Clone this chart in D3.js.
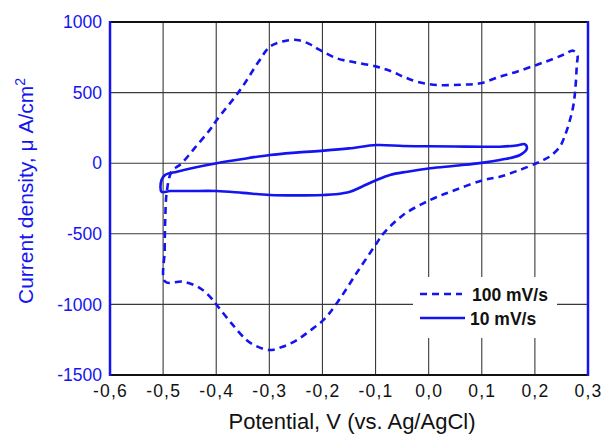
<!DOCTYPE html>
<html>
<head>
<meta charset="utf-8">
<script src="https://cdn.jsdelivr.net/npm/d3@7"></script>
<style>
  body { margin: 0; background: #fff; }
  text { font-family: "Liberation Sans", Arial, sans-serif; }
</style>
</head>
<body>
<svg id="chart" width="603" height="435"></svg>
<script>
// potential (V) / current density (uA/cm2)
const fastScan = [
  [-0.496, -839], [-0.497, -615], [-0.496, -400], [-0.493, -200], [-0.484, -60],
  [-0.465, 0], [-0.44, 110], [-0.412, 236], [-0.399, 306], [-0.355, 518],
  [-0.32, 720], [-0.299, 825], [-0.275, 862], [-0.248, 873], [-0.225, 845],
  [-0.205, 802], [-0.173, 743], [-0.14, 715], [-0.098, 684], [-0.07, 650],
  [-0.048, 613], [-0.02, 575], [0.015, 554], [0.06, 556], [0.097, 566],
  [0.134, 613], [0.166, 648], [0.203, 696], [0.229, 731], [0.255, 770],
  [0.272, 797], [0.280, 766], [0.279, 700], [0.276, 518], [0.272, 400],
  [0.266, 306], [0.257, 200], [0.247, 117], [0.229, 50], [0.216, 23],
  [0.203, 0], [0.17, -50], [0.134, -96], [0.103, -119], [0.05, -190],
  [0.003, -260], [-0.048, -367], [-0.085, -497], [-0.098, -567], [-0.136, -780],
  [-0.173, -992], [-0.198, -1110], [-0.225, -1190], [-0.248, -1252], [-0.275, -1300],
  [-0.299, -1323], [-0.325, -1295], [-0.343, -1252], [-0.37, -1140], [-0.399, -1004],
  [-0.409, -957], [-0.43, -886], [-0.462, -839]
];
const slowScan = [
  [-0.503, -119], [-0.496, -83], [-0.474, -60], [-0.44, -30], [-0.399, 0],
  [-0.35, 30], [-0.299, 58], [-0.25, 75], [-0.198, 89], [-0.15, 105],
  [-0.098, 129], [-0.048, 122], [0.0, 120], [0.05, 118], [0.103, 117],
  [0.134, 117], [0.165, 125], [0.181, 134], [0.185, 106], [0.172, 58],
  [0.134, 23], [0.103, 4], [0.05, -18], [0.003, -36], [-0.04, -60],
  [-0.073, -83], [-0.098, -119], [-0.125, -165], [-0.148, -202], [-0.175, -220],
  [-0.198, -225], [-0.25, -228], [-0.299, -225], [-0.35, -210], [-0.399, -197],
  [-0.45, -197], [-0.487, -197], [-0.503, -202]
];
const xTicks = [-0.6, -0.5, -0.4, -0.3, -0.2, -0.1, 0.0, 0.1, 0.2, 0.3];
const yTicks = [1000, 500, 0, -500, -1000, -1500];
const legendItems = ['100 mV/s', '10 mV/s'];

const blue = '#1414f0';
const margin = { top: 22, right: 15, bottom: 60, left: 110 };
const width = 588 - margin.left, height = 375 - margin.top;

const svg = d3.select('#chart');
const g = svg.append('g').attr('transform', 'translate(' + margin.left + ',' + margin.top + ')');

const x = d3.scaleLinear().domain([-0.6, 0.3]).range([0, width]);
const y = d3.scaleLinear().domain([-1500, 1000]).range([height, 0]);

// grid lines
g.append('g').selectAll('line').data(xTicks.slice(1, -1)).enter().append('line')
  .attr('x1', d => x(d)).attr('x2', d => x(d)).attr('y1', 0).attr('y2', height)
  .attr('stroke', '#3a3a3a').attr('stroke-width', 1.1);
g.append('g').selectAll('line').data(yTicks.slice(1, -1)).enter().append('line')
  .attr('y1', d => y(d)).attr('y2', d => y(d)).attr('x1', 0).attr('x2', width)
  .attr('stroke', '#3a3a3a').attr('stroke-width', 1.1);

// tick labels
const xAxis = g.append('g').attr('transform', 'translate(0,' + height + ')')
  .call(d3.axisBottom(x).tickValues(xTicks).tickSize(0).tickPadding(10)
    .tickFormat(d => d3.format('.1f')(d).replace('.', ',').replace('−', '-')));
xAxis.select('.domain').remove();
xAxis.selectAll('text').attr('font-size', 17.5).attr('fill', '#111')
  .attr('letter-spacing', 1.2)
  .style('font-family', '"Liberation Sans", Arial, sans-serif');

const yAxis = g.append('g')
  .call(d3.axisLeft(y).tickValues(yTicks).tickSize(0).tickPadding(8)
    .tickFormat(d => String(d)));
yAxis.select('.domain').remove();
yAxis.selectAll('text').attr('font-size', 17.5).attr('fill', blue)
  .style('font-family', '"Liberation Sans", Arial, sans-serif');

// curves
const line = d3.line().x(d => x(d[0])).y(d => y(d[1]))
  .curve(d3.curveCatmullRomClosed.alpha(0.5));

g.append('path').datum(fastScan).attr('d', line)
  .attr('fill', 'none').attr('stroke', blue).attr('stroke-width', 2.6)
  .attr('stroke-dasharray', '7,5');
g.append('path').datum(slowScan).attr('d', line)
  .attr('fill', 'none').attr('stroke', blue).attr('stroke-width', 2.6);

// frame: black top/bottom, blue left/right
g.append('line').attr('x1', 0).attr('x2', width).attr('y1', 0).attr('y2', 0)
  .attr('stroke', '#111').attr('stroke-width', 2);
g.append('line').attr('x1', 0).attr('x2', width).attr('y1', height).attr('y2', height)
  .attr('stroke', '#111').attr('stroke-width', 2);
g.append('line').attr('x1', 0).attr('x2', 0).attr('y1', -1).attr('y2', height + 1)
  .attr('stroke', blue).attr('stroke-width', 2.5);
g.append('line').attr('x1', width).attr('x2', width).attr('y1', -1).attr('y2', height + 1)
  .attr('stroke', blue).attr('stroke-width', 2.5);

// legend
const legend = svg.append('g').attr('transform', 'translate(413,277)');
legend.append('rect').attr('width', 144).attr('height', 61).attr('fill', '#fff');
legendItems.forEach((name, i) => {
  const ly = 17 + i * 24;
  legend.append('line').attr('x1', 7).attr('x2', i === 0 ? 49 : 52)
    .attr('y1', ly).attr('y2', ly)
    .attr('stroke', blue).attr('stroke-width', 2.6)
    .attr('stroke-dasharray', i === 0 ? '7,5' : null);
  legend.append('text').attr('x', i === 0 ? 59 : 57).attr('y', ly + 6.5)
    .attr('font-size', 17.5).attr('font-weight', 'bold').attr('fill', '#111')
    .text(name);
});

// axis titles
svg.append('text').attr('x', 352).attr('y', 429)
  .attr('text-anchor', 'middle').attr('font-size', 22).attr('fill', '#111')
  .text('Potential, V (vs. Ag/AgCl)');

const yTitle = svg.append('text')
  .attr('transform', 'translate(33,191) rotate(-90)')
  .attr('text-anchor', 'middle').attr('font-size', 21).attr('fill', blue);
yTitle.append('tspan').text('Current density, \u03BC A/cm');
yTitle.append('tspan').attr('dy', -8).attr('font-size', 14).text('2');
</script>
</body>
</html>
